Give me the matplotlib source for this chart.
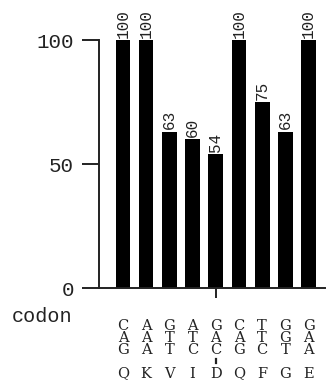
import numpy as np
import matplotlib

matplotlib.use("Agg")
import matplotlib.pyplot as plt
from matplotlib.transforms import blended_transform_factory

# percent per codon position
values = [100, 100, 63, 60, 54, 100, 75, 63, 100]
codons = ["CAG", "AAA", "GTT", "ATC", "GAC", "CAG", "TTC", "GGT", "GAA"]
amino = ["Q", "K", "V", "I", "D", "Q", "F", "G", "E"]
yticks = [0, 50, 100]

W, H = 327, 385
FONT = "Liberation Mono"
SERIF = "DejaVu Serif"
INK = "#222222"

fig = plt.figure(figsize=(W / 100, H / 100), dpi=100)
ax = fig.add_axes([99 / W, 1 - 288 / H, 226 / W, 248 / H])

x = np.arange(len(values))
ax.bar(x, values, width=0.63, color="black", lw=0)
for xi, v in zip(x, values):
    ax.text(xi, v + 1, str(v), rotation=90, ha="center", va="bottom",
            fontsize=11.5, family=FONT, color=INK, clip_on=False)

ax.set_xlim(-1.034, 8.707)
ax.set_ylim(0, 100)
ax.set_yticks(yticks)
ax.set_yticklabels([str(t) for t in yticks], family=FONT, fontsize=15, color=INK)
ax.tick_params(axis="y", length=12, width=1.4, pad=6, color=INK)
ax.set_xticks([4])
ax.set_xticklabels([""])
ax.tick_params(axis="x", length=7, width=1.4, color=INK)
for s in ("top", "right"):
    ax.spines[s].set_visible(False)
for s in ("left", "bottom"):
    ax.spines[s].set_linewidth(1.4)
    ax.spines[s].set_color(INK)

# codon letters stacked under each bar, amino acid below
tr = blended_transform_factory(ax.transData, fig.transFigure)
rows_y = [325, 336.5, 348]
for xi, cod, aa in zip(x, codons, amino):
    for ch, yp in zip(cod, rows_y):
        ax.text(xi, 1 - yp / H, ch, transform=tr, ha="center", va="center_baseline",
                fontsize=10.5, family=SERIF, color=INK, clip_on=False)
    ax.text(xi, 1 - 372 / H, aa, transform=tr, ha="center", va="center_baseline",
            fontsize=10.5, family=SERIF, color=INK, clip_on=False)
ax.plot([4, 4], [1 - 359 / H, 1 - 363 / H], transform=tr, color=INK,
        lw=1.6, clip_on=False)

fig.text(12 / W, 1 - 316 / H, "codon", ha="left", va="center",
         fontsize=14.5, family=FONT, color=INK)

fig.savefig("out.png", dpi=100)
